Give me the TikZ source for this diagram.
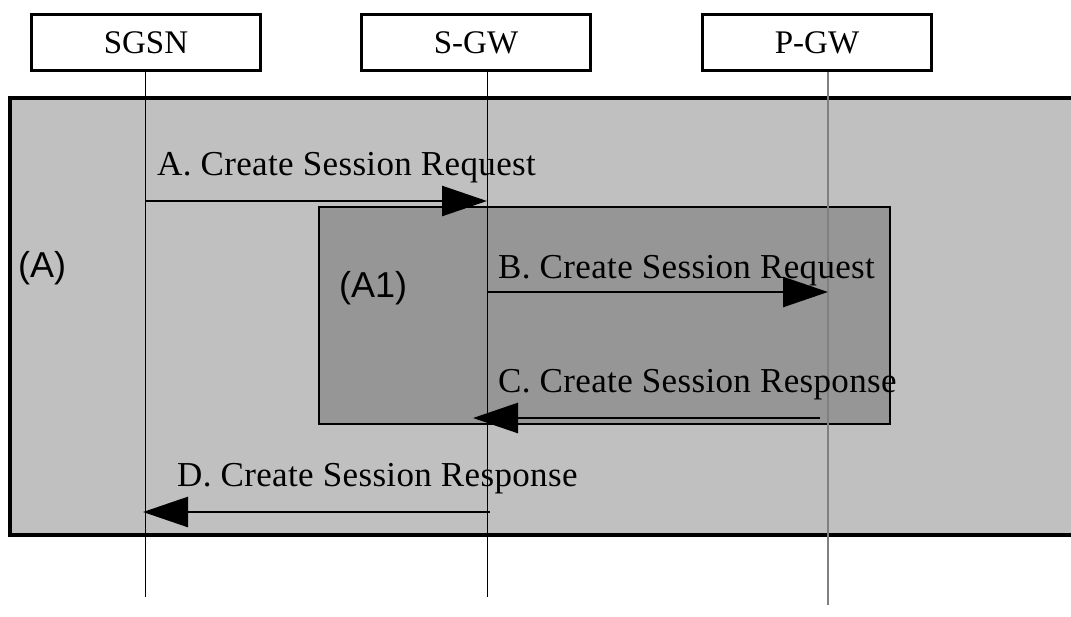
\documentclass[tikz,border=0pt]{standalone}
\usepackage{fontspec}
\setmainfont{Liberation Serif}
\newfontfamily\tagfont{Liberation Sans}
\usetikzlibrary{arrows.meta}
\definecolor{ink}{gray}{0}
\definecolor{outerfill}{gray}{0.753}
\definecolor{innerfill}{gray}{0.588}
\definecolor{pline}{gray}{0.5}
\tikzset{
  entity/.style={draw=ink, line width=3pt, fill=white, minimum width=229pt,
                 minimum height=56pt, inner sep=0pt, font=\fontsize{33}{38}\selectfont},
  lifeline/.style={draw=ink, line width=1pt},
  msg/.style={-{Triangle[length=45pt, width=30pt]}, draw=ink, line width=2.6pt},
  msglbl/.style={anchor=base west, inner sep=0pt,
                 font=\fontsize{35}{40}\selectfont\addfontfeature{LetterSpace=1}},
  tag/.style={anchor=base west, inner sep=0pt, font=\tagfont\fontsize{36}{42}\selectfont},
  frame/.style={draw=ink, line width=3.5pt, fill=outerfill},
  subframe/.style={draw=ink, line width=2.6pt, fill=innerfill},
}

\begin{document}
\begin{tikzpicture}[x=1pt, y=-1pt]
  \useasboundingbox (0,0) rectangle (1071,616);
  % entities
  \node[entity] (sgsn) at (146,42.5) {SGSN\hspace{12pt}};
  \node[entity] (sgw) at (476,42.5) {S-GW\hspace{12pt}};
  \node[entity] (pgw) at (817,42.5) {P-GW\hspace{2pt}};
  \coordinate (sgsn-end) at (145,597);
  \coordinate (sgw-end) at (487,597);
  \coordinate (pgw-end) at (828,605);
  % procedure frames
  \draw[frame] (10,98) rectangle (1110,535);
  \draw[subframe] (319,207) rectangle (890,424);
  \node[tag] (tagA) at (18,277) {(A)};
  \node[tag] (tagA1) at (339,297) {(A1)};
  % lifelines
  \draw[lifeline] (sgsn-end |- sgsn.south) -- (sgsn-end);
  \draw[lifeline] (sgw-end |- sgw.south) -- (sgw-end);
  \draw[lifeline, draw=pline, line width=1.8pt] (pgw-end |- pgw.south) -- (pgw-end);
  % messages
  \coordinate (yA) at (0,201);
  \coordinate (yB) at (0,292);
  \coordinate (yC) at (0,418);
  \coordinate (yD) at (0,512);
  \draw[msg] (sgsn-end |- yA) -- (sgw-end |- yA);
  \draw[msg] (sgw-end |- yB) -- (pgw-end |- yB);
  \draw[msg] ([xshift=-8pt]pgw-end |- yC) -- ([xshift=-14pt]sgw-end |- yC);
  \draw[msg] ([xshift=3pt]sgw-end |- yD) -- ([xshift=-2pt]sgsn-end |- yD);
  \node[msglbl] (lblA) at (157,175) {A. Create Session Request};
  \node[msglbl] (lblB) at (498,278) {B. Create Session Request};
  \node[msglbl] (lblC) at (498,392) {C. Create Session Response};
  \node[msglbl] (lblD) at (177,486) {D. Create Session Response};
\end{tikzpicture}
\end{document}
